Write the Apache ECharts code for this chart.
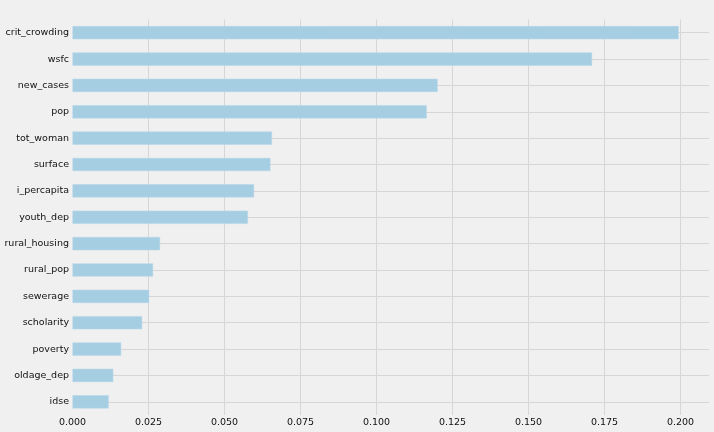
<!DOCTYPE html>
<html>
<head>
<meta charset="utf-8">
<script src="https://cdn.jsdelivr.net/npm/echarts@6/dist/echarts.min.js"></script>
<style>
  html, body { margin: 0; padding: 0; background: #f0f0f0; }
  #chart { width: 714px; height: 432px; }
</style>
</head>
<body>
<div id="chart"></div>
<script>
// feature importances, top to bottom
const features = ['crit_crowding', 'wsfc', 'new_cases', 'pop', 'tot_woman', 'surface',
  'i_percapita', 'youth_dep', 'rural_housing', 'rural_pop', 'sewerage', 'scholarity',
  'poverty', 'oldage_dep', 'idse']
const importance = [0.1994, 0.1709, 0.1201, 0.1165, 0.0656, 0.0651,
  0.0597, 0.0577, 0.0288, 0.0265, 0.0252, 0.0229,
  0.0160, 0.0134, 0.0119]
const xTicks = [0, 0.025, 0.05, 0.075, 0.1, 0.125, 0.15, 0.175, 0.2]

const chart = echarts.init(document.getElementById('chart'))
const txt = { color: '#111', fontFamily: 'DejaVu Sans', fontSize: 9.5 }

let option = {
  backgroundColor: '#f0f0f0',
  animation: false,
  grid: { left: 72.5, right: 5, top: 19.5, bottom: 17 },
  xAxis: {
    type: 'value',
    min: 0,
    max: Math.max(...importance) * 1.05,
    interval: xTicks[1] - xTicks[0],
    axisLine: { show: false },
    axisTick: { show: false },
    axisLabel: Object.assign({ margin: 3, showMaxLabel: false, formatter: v => v.toFixed(3) }, txt),
    splitLine: { show: true, showMinLine: false, showMaxLine: false, lineStyle: { color: '#d6d6d6', width: 1 } }
  },
  yAxis: {
    type: 'category',
    inverse: true,
    data: features,
    axisLine: { show: false },
    axisTick: { show: false, alignWithLabel: true },
    axisLabel: Object.assign({ margin: 3.5 }, txt),
    splitLine: { show: true, alignWithLabel: true, lineStyle: { color: '#d6d6d6', width: 1 } }
  },
  series: [
    {
      type: 'bar',
      data: importance,
      barWidth: '50%',
      itemStyle: { color: '#a6cee3', borderColor: '#b4d6e8', borderWidth: 0.5 }
    }
  ]
}
chart.setOption(option)
</script>
</body>
</html>
